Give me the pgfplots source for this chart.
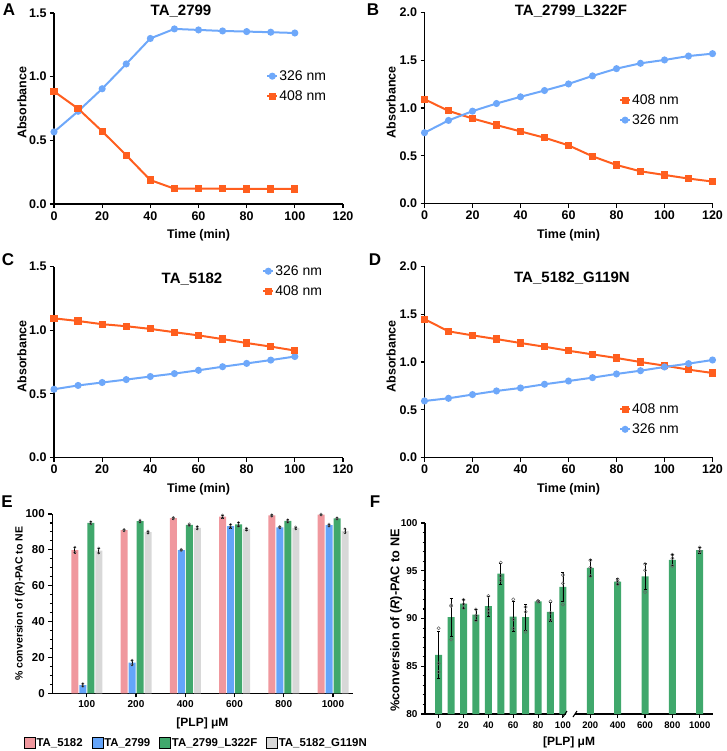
\documentclass[border=0pt]{standalone}
\usepackage{pgfplots}
\pgfplotsset{compat=1.18}
\usepackage{fontspec}
\setmainfont{Liberation Sans}
\definecolor{org}{RGB}{255,94,30}
\definecolor{blu}{RGB}{110,168,250}
\definecolor{pinkc}{RGB}{240,152,158}
\definecolor{bluc}{RGB}{100,165,250}
\definecolor{grnc}{RGB}{64,168,108}
\definecolor{gryc}{RGB}{216,216,216}
\pgfplotsset{
 base/.style={scale only axis, axis x line*=bottom, axis y line*=left,
   axis line style={-,line width=1.1pt,black}, tick style={line width=1.1pt,black},
   major tick length=4pt, minor tick length=2.5pt, tick align=outside,
   /pgf/number format/assume math mode=true, /pgf/number format/set thousands separator={},
   clip=false, anchor=south west},
 kin/.style={base, xmin=0, xmax=120, xtick={0,20,...,120}, ymin=0, height=191pt,
   tick label style={font=\bfseries\fontsize{12.5}{14}\selectfont},
   yticklabel style={/pgf/number format/.cd,fixed,fixed zerofill,precision=1},
   xlabel={Time (min)}, ylabel={Absorbance},
   label style={font=\bfseries\fontsize{12.5}{14}\selectfont},
   xlabel style={at={(axis description cs:0.5,-0.165)}, anchor=center},
   legend style={draw=none, fill=none, anchor=north west, inner sep=0pt,
     font=\fontsize{14}{16}\selectfont, row sep=6pt,
     nodes={inner sep=1pt, text height=10pt, text depth=2pt}},
   legend image code/.code={\draw[mark repeat=2,mark phase=2,#1] plot coordinates {(0pt,0pt) (5pt,0pt) (10pt,0pt)};}
 },
 ora/.style={org, line width=2pt, mark=square*, mark size=2.6pt, mark options={solid}},
 blc/.style={blu, line width=2pt, mark=*, mark size=2.5pt, mark options={solid}},
 errs/.style 2 args={/pgfplots/error bars/y dir=both, /pgfplots/error bars/y explicit,
   /pgfplots/error bars/error bar style={black,line width=#1},
   /pgfplots/error bars/error mark options={rotate=90,mark size=#2,black,line width=#1}},
 sqleg/.style={legend image code/.code={\draw[fill=#1,draw=black,line width=0.6pt] (0pt,-5.5pt) rectangle (11pt,5.5pt);}},
 Egeom/.style={base, at={(52.3pt,-693.3pt)}, width=300.4pt, height=179.3pt,
  xmin=-0.7, xmax=5.4, ymin=0, ymax=100},
}
\begin{document}
\begin{tikzpicture}
\useasboundingbox (0pt,0pt) rectangle (726pt,-751pt);
% ---------- A
\begin{axis}[kin, at={(54pt,-204pt)}, width=289pt, ymax=1.5, ytick={0,0.5,1,1.5},
  ylabel style={at={(axis description cs:-0.111,0.53)}, anchor=center},
  legend style={at={(axis description cs:0.734,0.707)}}]
\addplot[blc] coordinates {(0,0.566)(10,0.728)(20,0.905)(30,1.10)(40,1.30)(50,1.375)(60,1.367)(70,1.359)(80,1.354)(90,1.349)(100,1.343)};
\addlegendentry{326 nm}
\addplot[ora] coordinates {(0,0.884)(10,0.749)(20,0.571)(30,0.383)(40,0.188)(50,0.12)(60,0.12)(70,0.12)(80,0.118)(90,0.118)(100,0.118)};
\addlegendentry{408 nm}
\end{axis}
% ---------- B
\begin{axis}[kin, at={(424.5pt,-203.5pt)}, width=288pt, ymax=2, ytick={0,0.5,1,1.5,2},
  ylabel style={at={(axis description cs:-0.116,0.53)}, anchor=center},
  legend style={at={(axis description cs:0.675,0.579)}}]
\addplot[ora] coordinates {(0,1.092)(10,0.970)(20,0.890)(30,0.821)(40,0.755)(50,0.689)(60,0.609)(70,0.494)(80,0.403)(90,0.337)(100,0.299)(110,0.261)(120,0.230)};
\addlegendentry{408 nm}
\addplot[blc] coordinates {(0,0.741)(10,0.870)(20,0.967)(30,1.047)(40,1.117)(50,1.183)(60,1.252)(70,1.336)(80,1.412)(90,1.468)(100,1.503)(110,1.544)(120,1.569)};
\addlegendentry{326 nm}
\end{axis}
% ---------- C
\begin{axis}[kin, at={(54pt,-457.5pt)}, width=289pt, ymax=1.5, ytick={0,0.5,1,1.5},
  ylabel style={at={(axis description cs:-0.111,0.53)}, anchor=center},
  legend style={at={(axis description cs:0.72,1.013)}}]
\addplot[blc] coordinates {(0,0.536)(10,0.566)(20,0.589)(30,0.612)(40,0.636)(50,0.659)(60,0.685)(70,0.713)(80,0.739)(90,0.765)(100,0.793)};
\addlegendentry{326 nm}
\addplot[ora] coordinates {(0,1.093)(10,1.072)(20,1.047)(30,1.031)(40,1.010)(50,0.984)(60,0.959)(70,0.930)(80,0.899)(90,0.871)(100,0.840)};
\addlegendentry{408 nm}
\end{axis}
% ---------- D
\begin{axis}[kin, at={(424.5pt,-457.5pt)}, width=288pt, ymax=2, ytick={0,0.5,1,1.5,2},
  ylabel style={at={(axis description cs:-0.116,0.53)}, anchor=center},
  legend style={at={(axis description cs:0.675,0.29)}}]
\addplot[ora] coordinates {(0,1.449)(10,1.321)(20,1.279)(30,1.240)(40,1.199)(50,1.160)(60,1.118)(70,1.080)(80,1.042)(90,1.0)(100,0.962)(110,0.920)(120,0.885)};
\addlegendentry{408 nm}
\addplot[blc] coordinates {(0,0.592)(10,0.620)(20,0.659)(30,0.697)(40,0.728)(50,0.767)(60,0.801)(70,0.836)(80,0.875)(90,0.909)(100,0.948)(110,0.983)(120,1.021)};
\addlegendentry{326 nm}
\end{axis}
% ---------- E
\begin{axis}[Egeom, ybar=1pt, bar width=7pt, xtick={0,...,5},
  xticklabels={100,200,400,600,800,1000}, ytick={0,20,...,100}, minor y tick num=3,
  x tick label style={font=\bfseries\fontsize{10}{12}\selectfont},
  y tick label style={font=\bfseries\fontsize{11.5}{13}\selectfont},
  xlabel={[PLP] μM}, ylabel={\% conversion of (\textit{R})-PAC to NE},
  xlabel style={font=\bfseries\fontsize{12}{14}\selectfont, at={(axis description cs:0.5,-0.167)}, anchor=center},
  ylabel style={font=\bfseries\fontsize{10.5}{12}\selectfont, at={(axis description cs:-0.1075,0.5)}, anchor=center},
  legend columns=4,
  legend style={draw=none, fill=none, at={(axis description cs:0.478,-0.277)}, anchor=center,
    font=\bfseries\fontsize{11.4}{13}\selectfont, inner sep=0pt,
    nodes={inner sep=1pt}, /tikz/every even column/.append style={column sep=8pt}}]
\addplot[draw=none, fill=pinkc, errs={0.6pt}{1.2pt}, sqleg=pinkc] coordinates {(0,79.8)+-(0,1.8) (1,91.0)+-(0,0.4) (2,97.7)+-(0,0.4) (3,98.6)+-(0,0.8) (4,99.2)+-(0,0.4) (5,99.7)+-(0,0.3)};
\addlegendentry{TA\_5182}
\addplot[draw=none, fill=bluc, errs={0.6pt}{1.2pt}, sqleg=bluc] coordinates {(0,4.6)+-(0,0.8) (1,17.1)+-(0,1.5) (2,79.9)+-(0,0.4) (3,93.3)+-(0,1.0) (4,92.6)+-(0,0.4) (5,93.8)+-(0,0.6)};
\addlegendentry{TA\_2799}
\addplot[draw=none, fill=grnc, errs={0.6pt}{1.2pt}, sqleg=grnc] coordinates {(0,95.1)+-(0,0.7) (1,96.0)+-(0,0.7) (2,94.0)+-(0,0.5) (3,94.2)+-(0,1.2) (4,96.1)+-(0,0.8) (5,97.5)+-(0,0.4)};
\addlegendentry{TA\_2799\_L322F}
\addplot[draw=none, fill=gryc, errs={0.6pt}{1.2pt}, sqleg=gryc] coordinates {(0,79.6)+-(0,1.5) (1,89.9)+-(0,0.6) (2,92.3)+-(0,0.7) (3,91.5)+-(0,0.6) (4,92.2)+-(0,0.6) (5,90.6)+-(0,1.2)};
\addlegendentry{TA\_5182\_G119N}
\end{axis}
% replicate points of E (overlay axis with the same geometry)
\begin{axis}[Egeom, hide axis]
\addplot[only marks, mark=o, mark size=1.3pt, gray!70!black, line width=0.4pt]
  coordinates {(-0.243,81.4)(-0.243,78.6)(0.757,91.3)(0.757,90.7)(1.757,98.0)(1.757,97.4)(2.757,99.3)(2.757,98.0)(3.757,99.5)(3.757,98.9)(4.757,99.9)(4.757,99.5)
  (-0.081,5.3)(-0.081,4.0)(0.919,18.4)(0.919,15.9)(1.919,80.2)(1.919,79.6)(2.919,94.1)(2.919,92.6)(3.919,92.9)(3.919,92.3)(4.919,94.3)(4.919,93.3)
  (0.081,95.6)(0.081,94.6)(1.081,96.6)(1.081,95.5)(2.081,94.4)(2.081,93.6)(3.081,95.2)(3.081,93.3)(4.081,96.7)(4.081,95.5)(5.081,97.8)(5.081,97.2)
  (0.243,80.9)(0.243,78.3)(1.243,90.4)(1.243,89.4)(2.243,92.9)(2.243,91.7)(3.243,92.0)(3.243,91.0)(4.243,92.7)(4.243,91.7)(5.243,91.6)(5.243,89.6)};
\end{axis}
% ---------- F (left segment)
\begin{axis}[base, at={(425pt,-714pt)}, width=141pt, height=191pt,
  xmin=-11, xmax=102.5, ymin=80, ymax=100, xtick={0,20,...,100},
  ytick={80,85,...,100}, minor y tick num=4,
  x tick label style={font=\bfseries\fontsize{9.5}{11}\selectfont},
  y tick label style={font=\bfseries\fontsize{10}{12}\selectfont},
  ylabel={\%conversion of (\textit{R})-PAC to NE},
  ylabel style={font=\bfseries\fontsize{12.7}{14}\selectfont, at={(axis description cs:-0.2057,0.49)}, anchor=center}]
\addplot[ybar, bar width=7pt, bar shift=0pt, fill=grnc, draw=none, errs={0.8pt}{1.5pt}]
  coordinates {(0,86.2)+-(0,2.5) (10,90.15)+-(0,2.0) (20,91.55)+-(0,0.45) (30,90.4)+-(0,0.55) (40,91.3)+-(0,1.05) (50,94.7)+-(0,1.1) (60,90.2)+-(0,1.6) (70,90.15)+-(0,1.35) (80,91.8)+-(0,0.12) (90,90.7)+-(0,1.0) (100,93.3)+-(0,1.5)};
\addplot[only marks, mark=o, mark size=1.6pt, gray!80!black, line width=0.5pt]
  coordinates {(0,88.98)(0,85.3)(0,84.4)(10,91.4)(10,91.3)(10,87.8)(20,91.96)(20,91.1)(20,91.5)(30,90.95)(30,89.8)(30,90.3)(40,92.35)(40,90.95)(40,90.6)(50,95.86)(50,94.46)(50,94.0)(60,92.0)(60,89.9)(60,88.95)(70,91.2)(70,90.7)(70,88.6)(80,91.8)(80,91.85)(80,91.75)(90,91.8)(90,90.6)(90,89.86)(100,94.56)(100,93.68)(100,91.47)};
\end{axis}
% ---------- F (right segment)
\begin{axis}[base, at={(575pt,-714pt)}, width=138pt, height=191pt,
  axis y line=none, xmin=88, xmax=1097, ymin=80, ymax=100, xtick={200,400,...,1000},
  x tick label style={font=\bfseries\fontsize{9.5}{11}\selectfont}]
\addplot[ybar, bar width=7pt, bar shift=0pt, fill=grnc, draw=none, errs={0.8pt}{1.5pt}]
  coordinates {(200,95.3)+-(0,0.85) (400,93.85)+-(0,0.3) (600,94.4)+-(0,1.4) (800,96.15)+-(0,0.55) (1000,97.15)+-(0,0.3)};
\addplot[only marks, mark=o, mark size=1.6pt, gray!80!black, line width=0.5pt]
  coordinates {(200,96.1)(200,95.33)(200,94.46)(400,94.1)(400,93.9)(400,93.6)(600,95.7)(600,95.05)(600,92.77)(800,96.67)(800,96.3)(800,95.5)(1000,97.44)(1000,97.0)(1000,97.05)};
\end{axis}
\draw[line width=1pt] (563pt,-717pt) -- (567pt,-711pt);
\draw[line width=1pt] (573pt,-717pt) -- (577pt,-711pt);
\node[font=\bfseries\fontsize{12}{14}\selectfont, anchor=center] at (569pt,-742pt) {[PLP] μM};
% titles
\node[font=\bfseries\fontsize{15}{18}\selectfont, anchor=base] at (181pt,-16pt) {TA\_2799};
\node[font=\bfseries\fontsize{15}{18}\selectfont, anchor=base] at (571pt,-16pt) {TA\_2799\_L322F};
\node[font=\bfseries\fontsize{15}{18}\selectfont, anchor=base] at (192pt,-283pt) {TA\_5182};
\node[font=\bfseries\fontsize{15}{18}\selectfont, anchor=base] at (572pt,-282pt) {TA\_5182\_G119N};
% panel letters
\node[font=\bfseries\fontsize{17}{20}\selectfont, anchor=base] at (9pt,-16pt) {A};
\node[font=\bfseries\fontsize{17}{20}\selectfont, anchor=base] at (373pt,-16pt) {B};
\node[font=\bfseries\fontsize{17}{20}\selectfont, anchor=base] at (8pt,-265pt) {C};
\node[font=\bfseries\fontsize{17}{20}\selectfont, anchor=base] at (375pt,-265pt) {D};
\node[font=\bfseries\fontsize{17}{20}\selectfont, anchor=base] at (7pt,-507pt) {E};
\node[font=\bfseries\fontsize{17}{20}\selectfont, anchor=base] at (375pt,-507pt) {F};
\end{tikzpicture}
\end{document}
